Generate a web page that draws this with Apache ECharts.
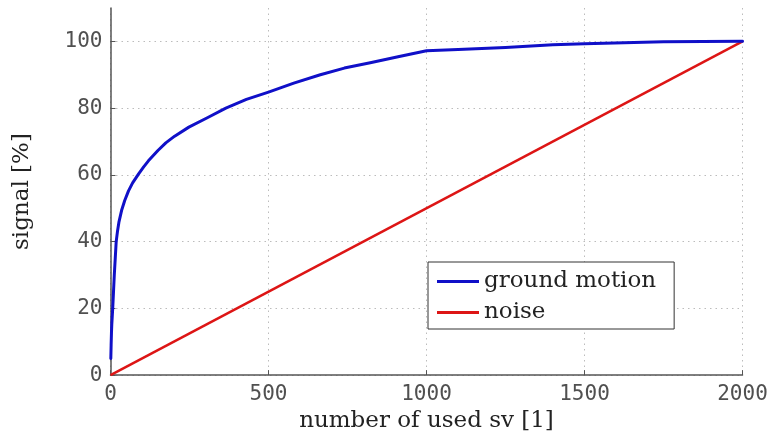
<!DOCTYPE html>
<html>
<head>
<meta charset="utf-8">
<script src="https://cdn.jsdelivr.net/npm/echarts@6/dist/echarts.min.js"></script>
<style>
html,body{margin:0;padding:0;background:#fff;}
#chart{width:780px;height:438px;}
</style>
</head>
<body>
<div id="chart"></div>
<script>
// data
const seriesNames = ['ground motion', 'noise'];
const groundX = [1, 2, 3, 4, 5.5, 7, 9.5, 12, 15, 18, 22, 27, 35, 45, 57, 70, 89, 105, 120, 150, 175, 203, 248, 308, 365, 430, 500, 580, 664, 740, 822, 910, 1000, 1100, 1250, 1400, 1500, 1750, 2000];
const groundY = [5, 9, 12.5, 15, 17.5, 20, 25, 30, 35, 40, 43, 46, 49.3, 52.3, 55.2, 57.6, 60.3, 62.4, 64.2, 67.3, 69.6, 71.6, 74.3, 77.2, 80, 82.6, 84.8, 87.5, 90, 92, 93.6, 95.4, 97.2, 97.6, 98.2, 99.0, 99.3, 99.9, 100];
const noiseX = [0, 2000];
const noiseY = [0, 100];
const xTicks = [0, 500, 1000, 1500, 2000];
const yTicks = [0, 20, 40, 60, 80, 100];

const pairs = (xs, ys) => xs.map((x, i) => [x, ys[i]]);

const monoFont = {fontFamily: 'DejaVu Sans Mono', fontSize: 21, color: '#505050'};
const serifFont = {fontFamily: 'DejaVu Serif', fontSize: 23, color: '#222'};
const gridColor = '#bcbcbc';

const chart = echarts.init(document.getElementById('chart'), null, {renderer: 'canvas'});
chart.setOption({
  animation: false,
  backgroundColor: '#fff',
  grid: {left: 110.5, right: 37.5, top: 8, bottom: 52, containLabel: false},
  xAxis: {
    type: 'value', min: 0, max: 2000, interval: 500,
    name: 'number of used sv [1]', nameLocation: 'middle', nameGap: 26,
    nameTextStyle: serifFont,
    axisLine: {show: true, onZero: false, lineStyle: {color: '#555', width: 1.5}},
    axisTick: {show: true, inside: true, length: 5, lineStyle: {color: '#555'}},
    axisLabel: Object.assign({margin: 9, formatter: v => xTicks.includes(v) ? String(v) : ''}, monoFont),
    splitLine: {show: true, lineStyle: {color: gridColor, type: [1.5, 4], width: 1}}
  },
  yAxis: {
    type: 'value', min: 0, max: 110, interval: 20,
    name: 'signal [%]', nameLocation: 'middle', nameGap: 77, nameRotate: 90,
    nameTextStyle: serifFont,
    axisLine: {show: true, onZero: false, lineStyle: {color: '#555', width: 1.5}},
    axisTick: {show: true, inside: true, length: 5, lineStyle: {color: '#555'},
      customValues: yTicks},
    axisLabel: Object.assign({margin: 8, formatter: v => yTicks.includes(v) ? String(v) : ''}, monoFont),
    splitLine: {show: true, lineStyle: {color: [gridColor, gridColor, gridColor, gridColor, gridColor, gridColor, 'rgba(0,0,0,0)'], type: [1.5, 4], width: 1}}
  },
  legend: {
    orient: 'vertical', left: 428, top: 262,
    padding: [8, 18, 5, 9],
    backgroundColor: '#fff', borderColor: '#333', borderWidth: 1, borderRadius: 0,
    itemWidth: 42, itemHeight: 3, itemGap: 8, icon: 'rect',
    textStyle: Object.assign({lineHeight: 23}, serifFont),
    data: seriesNames
  },
  series: [
    {
      name: seriesNames[0], type: 'line', data: pairs(groundX, groundY),
      showSymbol: false, symbol: 'none', smooth: false,
      lineStyle: {color: '#1010c8', width: 3, join: 'round', cap: 'round'}, itemStyle: {color: '#1010c8'}, z: 3
    },
    {
      name: seriesNames[1], type: 'line', data: pairs(noiseX, noiseY),
      showSymbol: false, symbol: 'none',
      lineStyle: {color: '#dd1515', width: 2.5}, itemStyle: {color: '#dd1515'}, z: 2
    }
  ]
});
</script>
</body>
</html>
